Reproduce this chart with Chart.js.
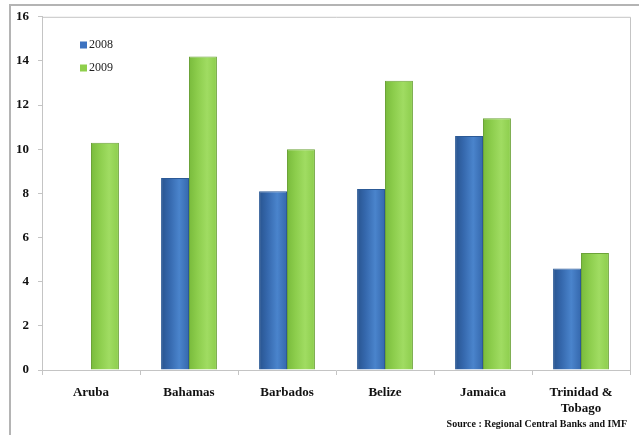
<!DOCTYPE html>
<html>
<head>
<meta charset="utf-8">
<script src="https://cdn.jsdelivr.net/npm/chart.js@4.4.1/dist/chart.umd.min.js"></script>
<style>
html,body{margin:0;padding:0;background:#fff;}
#wrap{position:relative;width:639px;height:435px;overflow:hidden;}
#frame{position:absolute;left:9px;top:4px;width:700px;height:500px;border-left:2px solid #b4b4b4;border-top:2px solid #b4b4b4;box-sizing:border-box;}
canvas{position:absolute;left:0;top:0;}
</style>
</head>
<body>
<div id="wrap">
<div id="frame"></div>
<canvas id="c" width="639" height="435"></canvas>
</div>
<script>
const categories = ["Aruba", "Bahamas", "Barbados", "Belize", "Jamaica", ["Trinidad &", "Tobago"]];
const series2008 = [null, 8.7, 8.1, 8.2, 10.6, 4.6];
const series2009 = [10.3, 14.2, 10.0, 13.1, 11.4, 5.3];
const seriesNames = ["2008", "2009"];
const yTicks = [0, 2, 4, 6, 8, 10, 12, 14, 16];
const sourceText = "Source : Regional Central Banks and IMF";

const SERIF = "'Liberation Serif', 'DejaVu Serif', serif";

function barGradient(ctx, dark, mid, light) {
  const el = ctx.element;
  const chart = ctx.chart;
  if (!el || !chart.chartArea) return mid;
  const w = el.width;
  const x = el.x;
  if (!isFinite(x) || !isFinite(w) || w <= 0) return mid;
  const x0 = x - w / 2, x1 = x + w / 2;
  const g = chart.ctx.createLinearGradient(x0, 0, x1, 0);
  g.addColorStop(0, dark);
  g.addColorStop(0.3, mid);
  g.addColorStop(0.65, light);
  g.addColorStop(1, mid);
  return g;
}

const framePlugin = {
  id: 'framePlugin',
  afterDraw(chart) {
    const {ctx, chartArea: a} = chart;
    ctx.save();
    ctx.strokeStyle = '#c4c4c4';
    ctx.lineWidth = 1;
    ctx.beginPath();
    ctx.moveTo(a.left, a.top + 0.5);
    ctx.lineTo(a.right + 0.5, a.top + 0.5);
    ctx.lineTo(a.right + 0.5, a.bottom);
    ctx.stroke();
    // legend
    const ds = chart.data.datasets;
    ctx.font = "12px " + SERIF;
    ctx.textBaseline = 'middle';
    ds.forEach((d, i) => {
      const y = 45 + i * 23;
      const x = 80;
      ctx.fillStyle = d.legendColor;
      ctx.fillRect(x, y - 3.5, 7, 7);
      ctx.fillStyle = '#222';
      ctx.fillText(d.label, x + 9, y);
    });
    // source
    ctx.font = "bold 10px " + SERIF;
    ctx.textAlign = 'right';
    ctx.fillStyle = '#111';
    ctx.fillText(sourceText, 627, 424);
    ctx.restore();
  }
};

const chart = new Chart(document.getElementById('c'), {
  type: 'bar',
  data: {
    labels: categories,
    datasets: [
      {
        label: seriesNames[0],
        data: series2008,
        legendColor: '#3c72c0',
        backgroundColor: (c) => barGradient(c, '#28548f', '#3568ad', '#4a84cc'),
        borderColor: '#2c5a96',
        borderWidth: 1,
        categoryPercentage: 0.57,
        barPercentage: 1.0
      },
      {
        label: seriesNames[1],
        data: series2009,
        legendColor: '#8fcf4c',
        backgroundColor: (c) => barGradient(c, '#79bb3c', '#8ccd4c', '#a0dc62'),
        borderColor: '#6ca339',
        borderWidth: 1,
        categoryPercentage: 0.57,
        barPercentage: 1.0
      }
    ]
  },
  options: {
    responsive: false,
    animation: false,
    layout: { padding: { left: 10, top: 15, right: 9, bottom: 0 } },
    plugins: {
      legend: { display: false },
      tooltip: { enabled: false }
    },
    scales: {
      x: {
        grid: { display: true, drawOnChartArea: false, drawTicks: true, tickLength: 5, color: '#c4c4c4', offset: true },
        border: { display: true, color: '#c4c4c4' },
        ticks: {
          color: '#111',
          font: { family: SERIF, size: 13, weight: 'bold' },
          maxRotation: 0,
          autoSkip: false,
          padding: 10
        },
        afterFit(s) { s.height = 65; }
      },
      y: {
        min: 0,
        max: 16,
        afterBuildTicks(s) { s.ticks = yTicks.map(v => ({ value: v })); },
        grid: { display: true, drawOnChartArea: false, drawTicks: true, tickLength: 4, color: '#c4c4c4' },
        border: { display: true, color: '#c4c4c4' },
        ticks: {
          color: '#111',
          font: { family: SERIF, size: 13, weight: 'bold' },
          padding: 9
        },
        afterFit(s) { s.width = 32; }
      }
    }
  },
  plugins: [framePlugin]
});
chart.update();
</script>
</body>
</html>
